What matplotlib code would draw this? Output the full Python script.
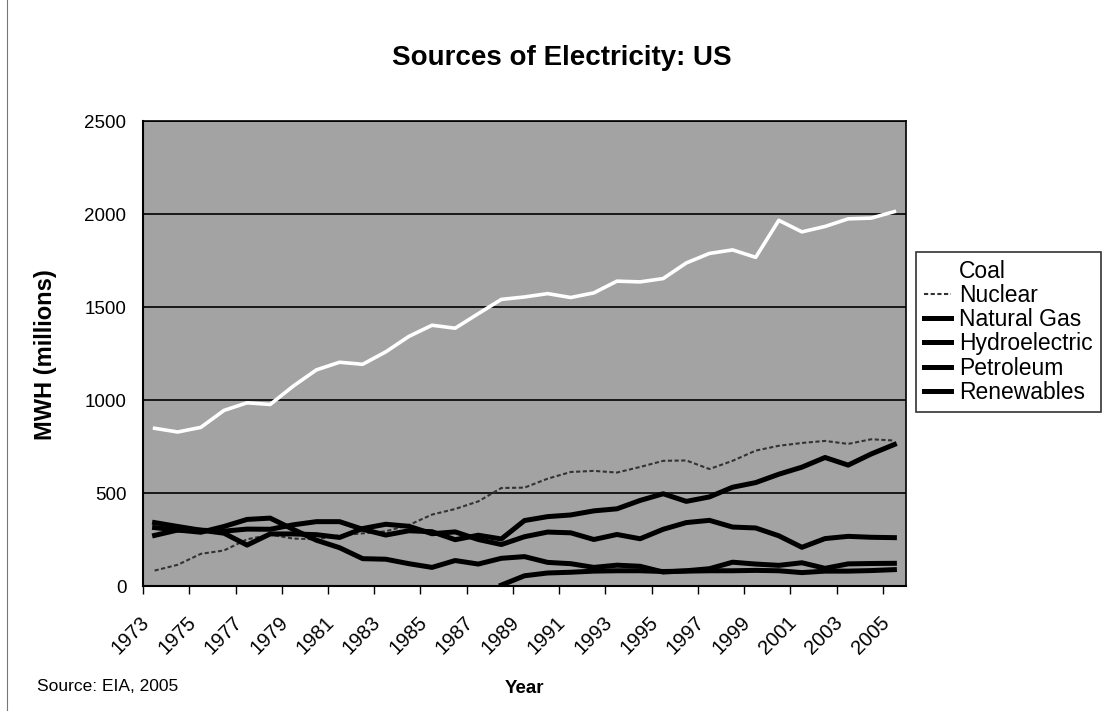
import matplotlib
matplotlib.use("Agg")
import matplotlib.pyplot as plt
from matplotlib.transforms import ScaledTranslation
from matplotlib.lines import Line2D

# Net generation by source, US, 1973-2005 (MWh, millions)
years = list(range(1973, 2006))

coal = [848, 828, 853, 944, 985, 976, 1075, 1162, 1203, 1192, 1259, 1342, 1402,
        1386, 1464, 1541, 1554, 1572, 1551, 1576, 1639, 1635, 1653, 1737, 1788,
        1807, 1767, 1966, 1904, 1933, 1974, 1978, 2013]
nuclear = [83, 114, 173, 191, 251, 276, 255, 251, 273, 283, 294, 328, 384, 414,
           455, 527, 529, 577, 613, 619, 610, 640, 673, 675, 629, 673, 728, 754,
           769, 780, 764, 789, 782]
natural_gas = [341, 320, 300, 295, 306, 305, 329, 346, 346, 305, 274, 297, 292,
               249, 273, 253, 352, 373, 382, 404, 415, 460, 496, 455, 479, 531,
               556, 601, 639, 691, 650, 710, 761]
hydroelectric = [272, 301, 300, 284, 220, 280, 280, 276, 261, 309, 332, 321, 281,
                 291, 250, 223, 265, 290, 286, 250, 277, 254, 305, 341, 353, 317,
                 312, 270, 208, 255, 267, 262, 260]
petroleum = [314, 301, 289, 320, 358, 365, 304, 246, 206, 147, 144, 120, 100, 137,
             118, 149, 158, 127, 120, 100, 112, 106, 75, 82, 93, 128, 118, 111,
             125, 95, 119, 121, 122]
# non-hydro renewables are only reported from 1988 on
renew_years = list(range(1988, 2006))
renewables = [5, 55, 70, 74, 80, 82, 82, 78, 80, 82, 82, 84, 82, 72, 80, 80, 83, 88]

tick_years = years[::2]
y_ticks = [0, 500, 1000, 1500, 2000, 2500]

plt.rcParams['font.family'] = ['Liberation Sans', 'DejaVu Sans']

fig = plt.figure(figsize=(11.02, 7.11), dpi=100)
fig.patch.set_facecolor('white')
ax = fig.add_axes([0.1298, 0.1758, 0.6923, 0.654])
ax.set_facecolor('#a3a3a3')

ax.plot(years, coal, color='white', lw=2.6, label='Coal', solid_joinstyle='round')
ax.plot(years, nuclear, color='#333333', lw=1.5, ls=(0, (2, 1.2)), label='Nuclear')
ax.plot(years, natural_gas, color='black', lw=3.6, label='Natural Gas')
ax.plot(years, hydroelectric, color='black', lw=3.6, label='Hydroelectric')
ax.plot(years, petroleum, color='black', lw=3.6, label='Petroleum')
ax.plot(renew_years, renewables, color='black', lw=3.6, label='Renewables')

ax.set_xlim(1972.5, 2005.5)
ax.set_ylim(0, 2500)
ax.set_yticks(y_ticks)
ax.yaxis.grid(True, color='black', lw=1.2)
ax.set_axisbelow(True)
ax.tick_params(axis='y', labelsize=13.5, length=0, pad=12)

# tick marks sit between categories, labels on every other category
ax.set_xticks([y - 0.5 for y in tick_years])
ax.set_xticklabels([])
ax.tick_params(axis='x', which='major', length=6, width=1, direction='out')
ax.set_xticks(tick_years, minor=True)
ax.set_xticklabels([str(y) for y in tick_years], minor=True, rotation=45,
                   ha='right', va='center', rotation_mode='anchor', fontsize=14.5)
ax.tick_params(axis='x', which='minor', length=0, pad=24)
shift = ScaledTranslation(-8 / 100, 0, fig.dpi_scale_trans)
for lbl in ax.get_xticklabels(minor=True):
    lbl.set_transform(lbl.get_transform() + shift)

for side in ['top', 'right']:
    ax.spines[side].set_color('black')
    ax.spines[side].set_linewidth(1.2)
ax.spines['left'].set_linewidth(1.5)
ax.spines['bottom'].set_linewidth(1.5)

ax.set_ylabel('MWH (millions)', fontsize=17, fontweight='bold')
ax.yaxis.set_label_coords(-0.113, 0.497)
fig.text(0.476, 0.032, 'Year', fontsize=13.5, fontweight='bold', ha='center', va='center')
fig.text(0.034, 0.034, 'Source: EIA, 2005', fontsize=12.5, ha='left', va='center')
fig.text(0.51, 0.918, 'Sources of Electricity: US', fontsize=20, fontweight='bold',
         ha='center', va='center')

# outer chart border on the left edge
fig.add_artist(Line2D([0.0065, 0.0065], [0, 1], transform=fig.transFigure,
                      color='#777777', lw=0.8))

leg = fig.legend(loc='upper left', bbox_to_anchor=(0.831, 0.6456), fontsize=16.5,
                 frameon=True, fancybox=False, edgecolor='black', handlelength=1.2,
                 handletextpad=0.35, borderpad=0.35, labelspacing=0.05,
                 borderaxespad=0)
leg.get_frame().set_linewidth(1.2)

fig.savefig('out.png', dpi=100, facecolor='white')
